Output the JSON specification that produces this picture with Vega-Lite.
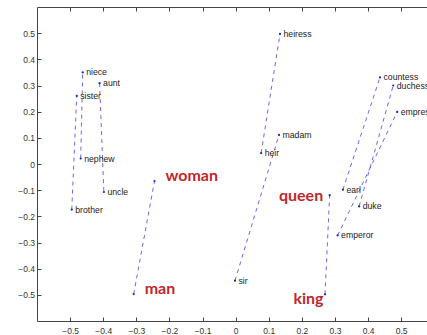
{
  "$schema": "https://vega.github.io/schema/vega-lite/v6.json",
  "width": 390,
  "height": 314,
  "autosize": {"type": "none"},
  "padding": {"left": 37, "top": 7, "right": 0, "bottom": 14},
  "background": "white",
  "config": {
    "view": {"stroke": null},
    "axis": {
      "labelFont": "Liberation Sans",
      "labelFontSize": 8.5,
      "labelColor": "#333333",
      "domainColor": "#444444",
      "tickColor": "#444444",
      "grid": false,
      "title": null,
      "tickSize": -4
    }
  },
  "data": {
    "values": [
      {"word": "sister", "x": -0.480, "y": 0.260, "pair": "sibling"},
      {"word": "brother", "x": -0.495, "y": -0.174, "pair": "sibling"},
      {"word": "niece", "x": -0.462, "y": 0.350, "pair": "niece"},
      {"word": "nephew", "x": -0.468, "y": 0.021, "pair": "niece"},
      {"word": "aunt", "x": -0.411, "y": 0.309, "pair": "aunt"},
      {"word": "uncle", "x": -0.398, "y": -0.107, "pair": "aunt"},
      {"word": "woman", "x": -0.245, "y": -0.065, "pair": "woman"},
      {"word": "man", "x": -0.308, "y": -0.497, "pair": "woman"},
      {"word": "heiress", "x": 0.134, "y": 0.497, "pair": "heir"},
      {"word": "heir", "x": 0.077, "y": 0.042, "pair": "heir"},
      {"word": "madam", "x": 0.131, "y": 0.111, "pair": "madam"},
      {"word": "sir", "x": -0.002, "y": -0.446, "pair": "madam"},
      {"word": "countess", "x": 0.436, "y": 0.331, "pair": "count"},
      {"word": "earl", "x": 0.324, "y": -0.098, "pair": "count"},
      {"word": "duchess", "x": 0.476, "y": 0.300, "pair": "duke"},
      {"word": "duke", "x": 0.373, "y": -0.162, "pair": "duke"},
      {"word": "empress", "x": 0.488, "y": 0.199, "pair": "emperor"},
      {"word": "emperor", "x": 0.308, "y": -0.273, "pair": "emperor"},
      {"word": "queen", "x": 0.284, "y": -0.119, "pair": "king"},
      {"word": "king", "x": 0.270, "y": -0.498, "pair": "king"}
    ]
  },
  "layer": [
    {
      "mark": {"type": "line", "stroke": "#3b3bdb", "strokeWidth": 0.9, "strokeDash": [4, 4], "opacity": 0.85},
      "encoding": {
        "detail": {"field": "pair"},
        "x": {"field": "x", "type": "quantitative", "scale": {"domain": [-0.6, 0.578], "nice": false, "zero": false}, "axis": {"orient": "bottom", "values": [-0.5, -0.4, -0.3, -0.2, -0.1, 0, 0.1, 0.2, 0.3, 0.4, 0.5], "labelPadding": 9, "format": ".1~f"}},
        "y": {"field": "y", "type": "quantitative", "scale": {"domain": [-0.6, 0.6], "nice": false, "zero": false}, "axis": {"orient": "left", "values": [-0.5, -0.4, -0.3, -0.2, -0.1, 0, 0.1, 0.2, 0.3, 0.4, 0.5], "labelPadding": 6.5, "format": ".1~f"}}
      }
    },
    {
      "mark": {"type": "point", "filled": true, "color": "#2222cc", "size": 5, "opacity": 1},
      "encoding": {
        "x": {"field": "x", "type": "quantitative", "axis": {"orient": "top", "values": [-0.5, -0.4, -0.3, -0.2, -0.1, 0, 0.1, 0.2, 0.3, 0.4, 0.5], "labels": false, "ticks": true, "tickSize": -4}},
        "y": {"field": "y", "type": "quantitative", "axis": {"orient": "left", "values": [-0.5, -0.4, -0.3, -0.2, -0.1, 0, 0.1, 0.2, 0.3, 0.4, 0.5], "labelPadding": 6.5, "format": ".1~f"}}
      }
    },
    {
      "transform": [{"filter": {"not": {"field": "word", "oneOf": ["woman", "man", "queen", "king"]}}}],
      "mark": {"type": "text", "align": "left", "baseline": "middle", "dx": 3.5, "font": "Liberation Sans", "fontSize": 8.7, "color": "#222222"},
      "encoding": {
        "x": {"field": "x", "type": "quantitative", "axis": null},
        "y": {"field": "y", "type": "quantitative", "axis": {"orient": "left", "values": [-0.5, -0.4, -0.3, -0.2, -0.1, 0, 0.1, 0.2, 0.3, 0.4, 0.5], "labelPadding": 6.5, "format": ".1~f"}},
        "text": {"field": "word"}
      }
    },
    {
      "transform": [{"filter": {"field": "word", "oneOf": ["woman", "man"]}}],
      "mark": {"type": "text", "align": "left", "baseline": "alphabetic", "dx": 11, "dy": 0, "font": "Lato", "fontWeight": "bold", "fontSize": 16, "color": "#c1272d"},
      "encoding": {
        "x": {"field": "x", "type": "quantitative", "axis": null},
        "y": {"field": "y", "type": "quantitative", "axis": {"orient": "left", "values": [-0.5, -0.4, -0.3, -0.2, -0.1, 0, 0.1, 0.2, 0.3, 0.4, 0.5], "labelPadding": 6.5, "format": ".1~f"}},
        "text": {"field": "word"}
      }
    },
    {
      "transform": [{"filter": {"field": "word", "equal": "queen"}}],
      "mark": {"type": "text", "align": "right", "baseline": "alphabetic", "dx": -6.5, "dy": 5.5, "font": "Lato", "fontWeight": "bold", "fontSize": 16, "color": "#c1272d"},
      "encoding": {
        "x": {"field": "x", "type": "quantitative", "axis": null},
        "y": {"field": "y", "type": "quantitative", "axis": {"orient": "left", "values": [-0.5, -0.4, -0.3, -0.2, -0.1, 0, 0.1, 0.2, 0.3, 0.4, 0.5], "labelPadding": 6.5, "format": ".1~f"}},
        "text": {"field": "word"}
      }
    },
    {
      "transform": [{"filter": {"field": "word", "equal": "king"}}],
      "mark": {"type": "text", "align": "right", "baseline": "alphabetic", "dx": -1.5, "dy": 10, "font": "Lato", "fontWeight": "bold", "fontSize": 16, "color": "#c1272d"},
      "encoding": {
        "x": {"field": "x", "type": "quantitative", "axis": null},
        "y": {"field": "y", "type": "quantitative", "axis": {"orient": "left", "values": [-0.5, -0.4, -0.3, -0.2, -0.1, 0, 0.1, 0.2, 0.3, 0.4, 0.5], "labelPadding": 6.5, "format": ".1~f"}},
        "text": {"field": "word"}
      }
    }
  ],
  "resolve": {"axis": {"x": "independent"}}
}
